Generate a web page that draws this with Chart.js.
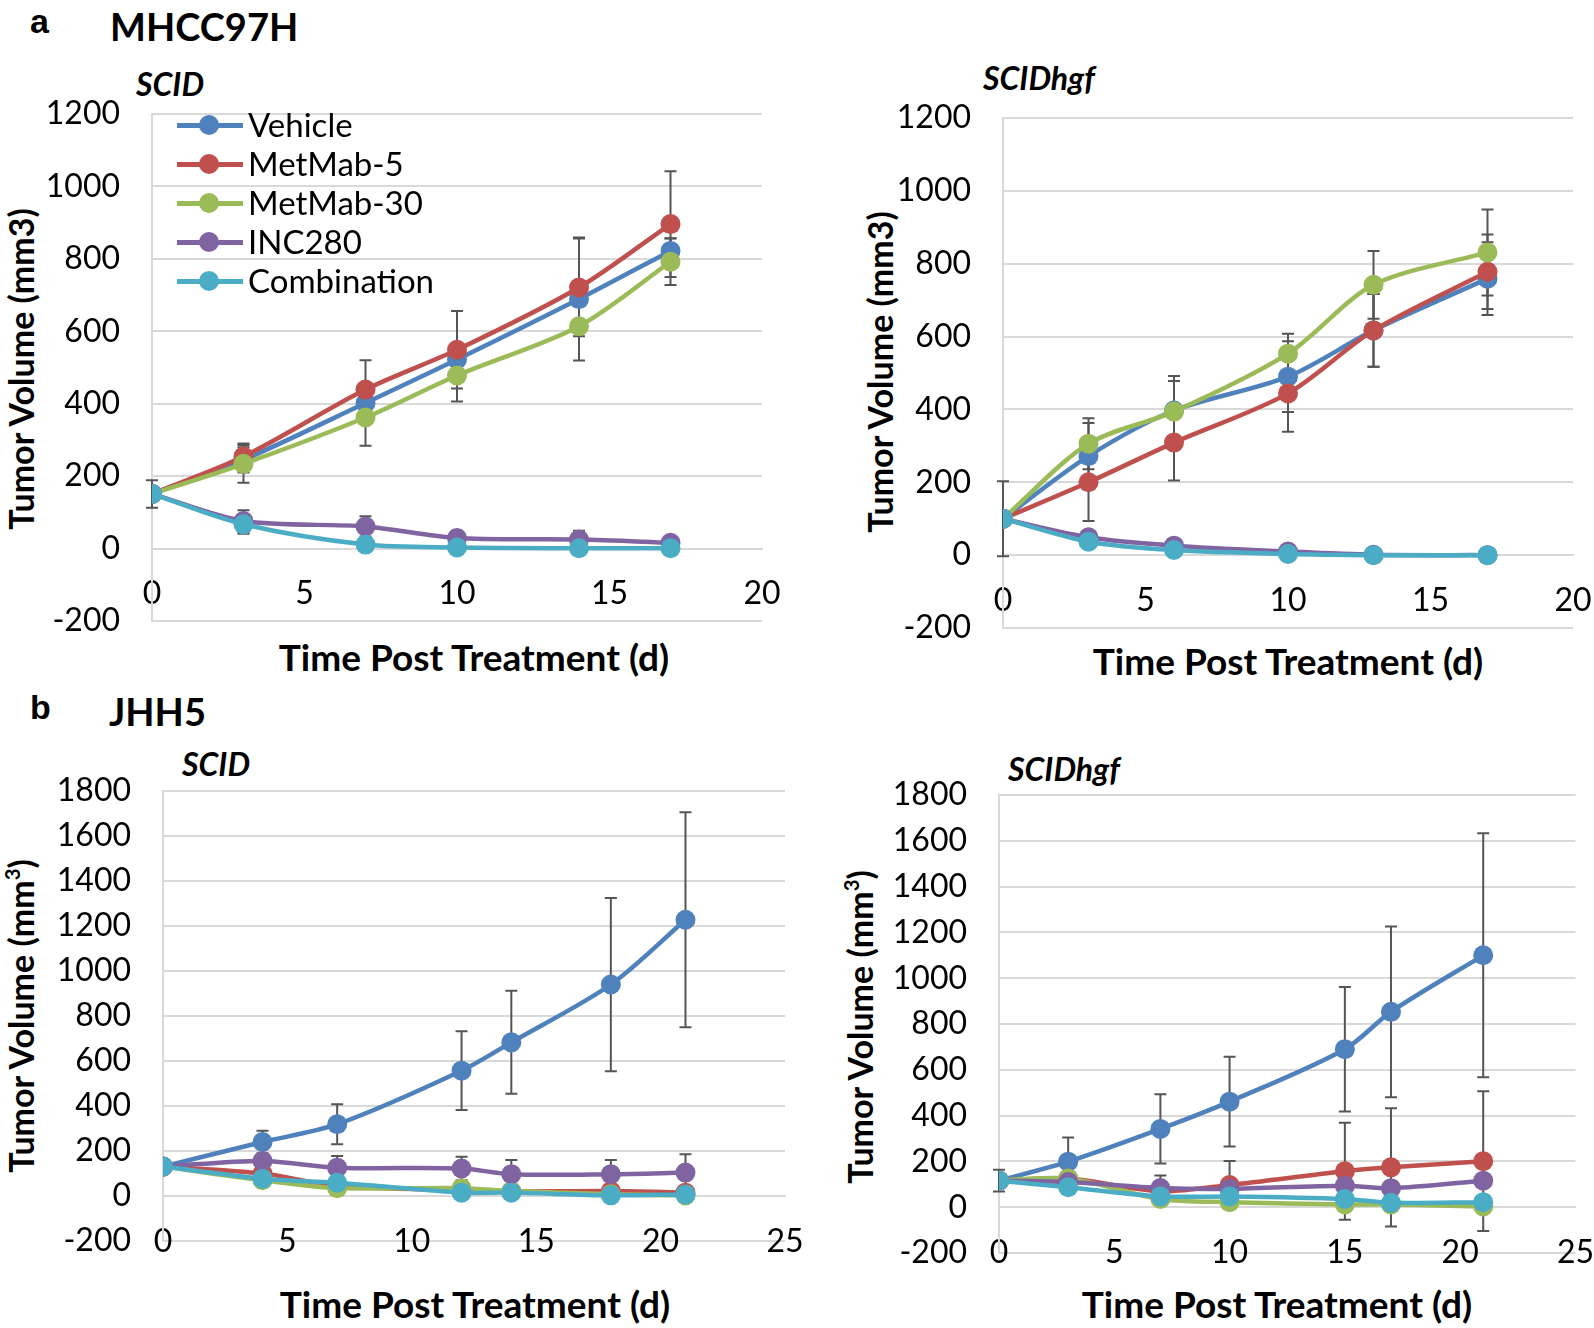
<!DOCTYPE html>
<html>
<head>
<meta charset="utf-8">
<script src="https://cdn.jsdelivr.net/npm/chart.js@4.4.0/dist/chart.umd.min.js"></script>
<style>
  body { margin: 0; background: #fff; }
  #page { position: relative; width: 1594px; height: 1328px; overflow: hidden; font-family: Lato, sans-serif; color: #000; }
  #page canvas { position: absolute; }
  .txt { position: absolute; white-space: nowrap; line-height: 1; }
  .letter { font-family: "Liberation Sans", Arial, sans-serif; font-weight: bold; font-size: 34px; }
  .cell { font-weight: bold; font-size: 38px; }
  .mouse { font-weight: bold; font-style: italic; font-size: 32px; }
  .xt { font-weight: bold; font-size: 37px; transform: translate(-50%, -50%); }
  .yt { font-weight: bold; font-size: 34px; transform: translate(-50%, -50%) rotate(-90deg); }
  .yt sup { font-size: 0.6em; line-height: 0; vertical-align: 0.7em; }
  .leg { position: absolute; height: 20px; }
  .leg .ln { position: absolute; left: 0; top: 8px; width: 66px; height: 4.5px; }
  .leg .dot { position: absolute; left: 22px; top: 0; width: 20px; height: 20px; border-radius: 50%; }
  .leg .lab { position: absolute; left: 71px; top: -7px; font-size: 33px; line-height: 1; white-space: nowrap; }
</style>
</head>
<body>
<div id="page">
  <div class="txt letter" style="left:30px;top:4px">a</div>
  <div class="txt cell" style="left:110px;top:7px">MHCC97H</div>
  <div class="txt mouse" style="left:136px;top:68px">SCID</div>
  <div class="txt mouse" style="left:983px;top:62px">SCIDhgf</div>

  <div class="txt letter" style="left:30px;top:690px">b</div>
  <div class="txt cell" style="left:109px;top:692px">JHH5</div>
  <div class="txt mouse" style="left:182px;top:748px">SCID</div>
  <div class="txt mouse" style="left:1008px;top:753px">SCIDhgf</div>

  <div class="txt yt" style="left:21px;top:369px">Tumor Volume (mm3)</div>
  <div class="txt yt" style="left:880px;top:372px">Tumor Volume (mm3)</div>
  <div class="txt yt" style="left:21px;top:1016px">Tumor Volume (mm<sup>3</sup>)</div>
  <div class="txt yt" style="left:860px;top:1027px">Tumor Volume (mm<sup>3</sup>)</div>

  <div class="txt xt" style="left:474px;top:656px">Time Post Treatment (d)</div>
  <div class="txt xt" style="left:1288px;top:660px">Time Post Treatment (d)</div>
  <div class="txt xt" style="left:475px;top:1303px">Time Post Treatment (d)</div>
  <div class="txt xt" style="left:1277px;top:1303px">Time Post Treatment (d)</div>

  <canvas id="chartA1" width="800" height="560" style="left:0;top:90px"></canvas>
  <canvas id="chartA2" width="794" height="560" style="left:800px;top:90px"></canvas>
  <canvas id="chartB1" width="830" height="510" style="left:0;top:760px"></canvas>
  <canvas id="chartB2" width="794" height="530" style="left:800px;top:760px"></canvas>

  <div id="legend"></div>
</div>

<script>
// series shared by all four panels
var seriesNames = ["Vehicle", "MetMab-5", "MetMab-30", "INC280", "Combination"];
var seriesColors = ["#4F81BD", "#C0504D", "#9BBB59", "#8064A2", "#4BACC6"];

// a - MHCC97H, SCID
var daysA1 = [0, 3, 7, 10, 14, 17];
var vehicleA1 = [151, 245, 402, 522, 689, 822];
var metmab5A1 = [151, 254, 439, 549, 721, 896];
var metmab30A1 = [151, 234, 362, 478, 614, 792];
var inc280A1 = [151, 76, 61, 29, 25, 16];
var comboA1 = [151, 67, 11, 3, 1, 1];
var vehicleErrA1 = [38, 35, 118, 0, 170, 35];
var metmab5ErrA1 = [0, 36, 0, 107, 135, 146];
var metmab30ErrA1 = [0, 52, 0, 72, 0, 64];
var inc280ErrA1 = [0, 30, 28, 20, 24, 14];
var comboErrA1 = [0, 26, 0, 0, 0, 0];

// a - MHCC97H, SCIDhgf
var daysA2 = [0, 3, 6, 10, 13, 17];
var vehicleA2 = [100, 272, 397, 490, 617, 759];
var metmab5A2 = [100, 200, 309, 444, 617, 778];
var metmab30A2 = [100, 306, 394, 553, 742, 831];
var inc280A2 = [100, 49, 26, 10, 1, 0];
var comboA2 = [100, 37, 14, 3, 0, 0];
var vehicleErrA2 = [103, 91, 95, 97, 100, 100];
var metmab5ErrA2 = [0, 106, 104, 105, 100, 102];
var metmab30ErrA2 = [0, 70, 84, 55, 93, 118];
var inc280ErrA2 = [0, 0, 0, 0, 0, 0];
var comboErrA2 = [0, 0, 0, 0, 0, 0];

// b - JHH5, SCID
var daysB1 = [0, 4, 7, 12, 14, 18, 21];
var vehicleB1 = [131, 240, 319, 557, 683, 940, 1228];
var metmab5B1 = [131, 100, 45, 25, 20, 22, 15];
var metmab30B1 = [131, 70, 35, 35, 22, 8, 2];
var inc280B1 = [131, 156, 126, 122, 97, 97, 104];
var comboB1 = [131, 77, 59, 15, 15, 3, 7];
var vehicleErrB1 = [0, 50, 89, 175, 229, 385, 478];
var metmab5ErrB1 = [0, 0, 0, 0, 0, 0, 0];
var metmab30ErrB1 = [0, 0, 0, 0, 0, 0, 0];
var inc280ErrB1 = [0, 0, 52, 52, 63, 63, 82];
var comboErrB1 = [0, 0, 0, 0, 0, 0, 0];

// b - JHH5, SCIDhgf
var daysB2 = [0, 3, 7, 10, 15, 17, 21];
var vehicleB2 = [116, 199, 342, 461, 690, 853, 1100];
var metmab5B2 = [116, 125, 70, 97, 157, 174, 201];
var metmab30B2 = [116, 125, 36, 22, 12, 12, 3];
var inc280B2 = [116, 110, 84, 80, 94, 83, 116];
var comboB2 = [116, 87, 47, 47, 36, 19, 22];
var vehicleErrB2 = [47, 105, 151, 196, 272, 373, 533];
var metmab5ErrB2 = [0, 0, 0, 105, 212, 258, 305];
var metmab30ErrB2 = [0, 0, 0, 0, 0, 0, 0];
var inc280ErrB2 = [0, 0, 54, 0, 0, 0, 0];
var comboErrB2 = [0, 0, 0, 0, 0, 0, 0];

// axis ranges
var yTicksA = { min: -200, max: 1200, step: 200 };
var yTicksB = { min: -200, max: 1800, step: 200 };
var xTicksA = { min: 0, max: 20, step: 5 };
var xTicksB = { min: 0, max: 25, step: 5 };

Chart.defaults.font.family = "Lato, sans-serif";
Chart.defaults.color = "#000";

// excel style error bars, drawn under the lines
var errorBars = {
  id: "errorBars",
  beforeDatasetsDraw: function(chart) {
    var ctx = chart.ctx;
    var yScale = chart.scales.y;
    ctx.save();
    ctx.strokeStyle = "#555555";
    ctx.lineWidth = 2;
    chart.data.datasets.forEach(function(ds, i) {
      var meta = chart.getDatasetMeta(i);
      ds.errors.forEach(function(e, j) {
        if (!e) return;
        var x = meta.data[j].x;
        var top = yScale.getPixelForValue(ds.data[j].y + e);
        var bot = yScale.getPixelForValue(ds.data[j].y - e);
        ctx.beginPath();
        ctx.moveTo(x, top); ctx.lineTo(x, bot);
        ctx.moveTo(x - 6, top); ctx.lineTo(x + 6, top);
        ctx.moveTo(x - 6, bot); ctx.lineTo(x + 6, bot);
        ctx.stroke();
      });
    });
    ctx.restore();
  }
};

function plainNumber(v) { return String(v); }

function makePanel(id, days, values, errors, yt, xt, box) {
  var datasets = values.map(function(vals, i) {
    return {
      label: seriesNames[i],
      data: days.map(function(d, j) { return { x: d, y: vals[j] }; }),
      errors: errors[i],
      borderColor: seriesColors[i],
      backgroundColor: seriesColors[i],
      pointBackgroundColor: seriesColors[i],
      pointBorderWidth: 0,
      pointRadius: 10,
      borderWidth: 4.5,
      tension: 0.3,
      order: values.length - i
    };
  });

  new Chart(document.getElementById(id), {
    type: "line",
    data: { datasets: datasets },
    plugins: [errorBars],
    options: {
      responsive: false,
      animation: false,
      events: [],
      layout: { padding: { left: 0, top: box.top, right: box.right, bottom: box.bottom } },
      plugins: { legend: { display: false }, tooltip: { enabled: false } },
      scales: {
        x: {
          type: "linear",
          position: { y: 0 },
          min: xt.min, max: xt.max,
          // invisible tick marks push the labels down instead of padding
          grid: { display: false, drawTicks: true, tickLength: 26, tickColor: "rgba(0,0,0,0)" },
          border: { display: true, color: "#D9D9D9", width: 2 },
          ticks: { stepSize: xt.step, padding: 0, font: { size: 32 }, maxRotation: 0, callback: plainNumber }
        },
        y: {
          type: "linear",
          min: yt.min, max: yt.max,
          grid: { color: "#D9D9D9", lineWidth: 2, drawTicks: true, tickLength: 32, tickColor: "rgba(0,0,0,0)" },
          border: { display: true, color: "#D9D9D9", width: 2 },
          ticks: { stepSize: yt.step, padding: 0, font: { size: 32 }, callback: plainNumber },
          afterFit: function(scale) { scale.width = box.axis; }
        }
      }
    }
  });
}

makePanel("chartA1", daysA1,
  [vehicleA1, metmab5A1, metmab30A1, inc280A1, comboA1],
  [vehicleErrA1, metmab5ErrA1, metmab30ErrA1, inc280ErrA1, comboErrA1],
  yTicksA, xTicksA, { axis: 152, top: 24, bottom: 29, right: 38 });

makePanel("chartA2", daysA2,
  [vehicleA2, metmab5A2, metmab30A2, inc280A2, comboA2],
  [vehicleErrA2, metmab5ErrA2, metmab30ErrA2, inc280ErrA2, comboErrA2],
  yTicksA, xTicksA, { axis: 203, top: 28, bottom: 22, right: 21 });

makePanel("chartB1", daysB1,
  [vehicleB1, metmab5B1, metmab30B1, inc280B1, comboB1],
  [vehicleErrB1, metmab5ErrB1, metmab30ErrB1, inc280ErrB1, comboErrB1],
  yTicksB, xTicksB, { axis: 163, top: 31, bottom: 29, right: 45 });

makePanel("chartB2", daysB2,
  [vehicleB2, metmab5B2, metmab30B2, inc280B2, comboB2],
  [vehicleErrB2, metmab5ErrB2, metmab30ErrB2, inc280ErrB2, comboErrB2],
  yTicksB, xTicksB, { axis: 199, top: 35, bottom: 37, right: 18 });

// legend of panel a / SCID
var legend = document.getElementById("legend");
seriesNames.forEach(function(name, i) {
  var row = document.createElement("div");
  row.className = "leg";
  row.style.left = "177px";
  row.style.top = (115 + i * 39) + "px";
  row.innerHTML = '<div class="ln" style="background:' + seriesColors[i] + '"></div>' +
    '<div class="dot" style="background:' + seriesColors[i] + '"></div>' +
    '<div class="lab">' + name + '</div>';
  legend.appendChild(row);
});
</script>
</body>
</html>
